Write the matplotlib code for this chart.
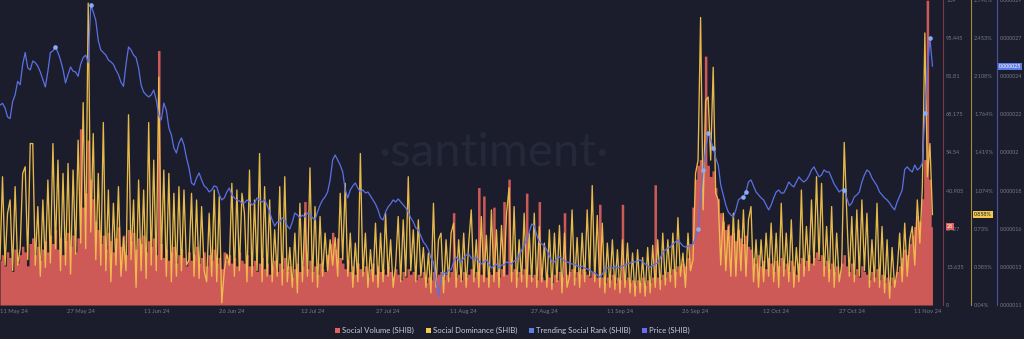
import matplotlib
matplotlib.use("Agg")
import matplotlib.pyplot as plt
import matplotlib.dates as mdates
import numpy as np
import pandas as pd
from matplotlib.lines import Line2D

plt.rcParams['font.family'] = ['Lato', 'DejaVu Sans']

# 12-hour samples starting at this timestamp
START = "2024-05-11 00:00"

social_volume = [
    16, 18, 14, 19, 17, 12, 20, 15, 18, 21,
    19, 14, 22, 24, 18, 21, 16, 20, 23, 19,
    25, 22, 27, 20, 24, 18, 23, 26, 21, 25,
    19, 24, 63, 35, 40, 59, 45, 38, 30, 27,
    22, 25, 20, 26, 23, 19, 24, 28, 21, 25,
    18, 27, 23, 26, 20, 24, 22, 25, 19, 23,
    21, 24, 18, 91, 22, 17, 20, 16, 19, 21,
    15, 18, 20, 17, 14, 19, 16, 18, 21, 15,
    17, 19, 14, 18, 16, 20, 15, 17, 13, 19,
    16, 18, 15, 17, 14, 19, 16, 15, 18, 14,
    14, 16, 12, 15, 17, 13, 15, 11, 14, 16,
    12, 15, 13, 17, 12, 14, 10, 13, 15, 12,
    14, 37, 13, 16, 12, 14, 11, 15, 13, 12,
    18, 22, 26, 20, 24, 17, 15, 13, 16, 12,
    14, 11, 15, 13, 12, 14, 10, 13, 15, 11,
    14, 12, 13, 11, 14, 12, 10, 13, 11, 9,
    12, 10, 13, 11, 12, 9, 11, 10, 12, 8,
    10, 9, 12, 10, 11, 12, 9, 11, 10, 12,
    33, 10, 11, 9, 12, 10, 11, 13, 10, 12,
    42, 11, 39, 10, 12, 11, 35, 12, 10, 13,
    37, 11, 45, 12, 13, 10, 12, 11, 13, 40,
    11, 10, 11, 9, 37, 10, 9, 11, 10, 8,
    11, 9, 12, 10, 33, 11, 12, 13, 10, 12,
    11, 13, 12, 11, 10, 12, 11, 10, 36, 10,
    8, 10, 9, 11, 8, 10, 9, 36, 9, 10,
    8, 9, 7, 9, 8, 10, 7, 9, 8, 10,
    43, 10, 9, 11, 10, 12, 11, 13, 12, 14,
    13, 15, 14, 17, 22, 35, 45, 50, 52, 48,
    89, 50, 46, 48, 42, 38, 33, 30, 27, 29,
    25, 26, 23, 27, 24, 22, 25, 21, 20, 17,
    15, 18, 14, 16, 13, 17, 15, 12, 16, 14,
    17, 13, 15, 12, 16, 14, 11, 15, 17, 14,
    16, 18, 15, 17, 19, 16, 18, 14, 16, 13,
    15, 12, 14, 11, 15, 18, 14, 12, 15, 11,
    13, 10, 14, 12, 11, 9, 12, 10, 13, 9,
    11, 8, 10, 7, 10, 9, 12, 14, 17, 20,
    18, 22, 25, 28, 32, 30, 38, 52, 109, 45,
    28,
]

# percent
social_dominance = [
    0.45, 1.20, 0.40, 0.87, 0.99, 0.35, 1.11, 0.40, 0.55, 1.23,
    1.29, 0.45, 1.50, 1.50, 0.40, 0.93, 0.30, 0.99, 0.38, 1.17,
    0.42, 1.50, 0.55, 1.35, 0.35, 1.23, 0.40, 1.32, 0.32, 1.26,
    0.50, 1.53, 0.60, 1.87, 0.55, 2.77, 0.70, 1.59, 0.45, 1.23,
    0.40, 1.69, 0.35, 1.08, 0.25, 0.96, 0.40, 1.11, 0.30, 0.65,
    0.35, 1.76, 0.45, 0.99, 0.20, 1.17, 0.35, 1.08, 0.28, 1.69,
    0.40, 1.35, 0.35, 2.10, 0.45, 1.26, 0.30, 1.23, 0.25, 1.05,
    0.30, 1.11, 0.35, 1.08, 0.40, 0.45, 1.05, 0.30, 0.99, 0.28,
    0.93, 0.35, 0.25, 0.87, 0.30, 1.08, 0.25, 1.02, 0.06, 0.35,
    0.50, 0.40, 1.14, 0.30, 1.08, 0.35, 1.05, 0.87, 0.25, 1.26,
    0.30, 0.99, 0.35, 1.41, 0.25, 1.11, 0.30, 0.99, 0.25, 0.72,
    0.30, 1.11, 0.22, 1.20, 0.25, 0.56, 0.20, 0.69, 0.15, 0.96,
    0.25, 0.87, 0.30, 1.28, 0.25, 0.93, 0.20, 0.84, 0.30, 0.69,
    0.35, 0.63, 0.40, 0.65, 0.30, 1.05, 0.45, 1.14, 0.30, 0.69,
    0.20, 0.60, 0.25, 1.41, 0.30, 0.69, 0.20, 0.54, 0.25, 0.78,
    0.20, 0.69, 0.25, 0.87, 0.30, 0.63, 0.20, 0.40, 0.84, 0.25,
    0.81, 0.30, 1.20, 0.35, 0.72, 0.25, 0.81, 0.30, 0.56, 0.20,
    0.51, 0.15, 0.96, 0.20, 0.63, 0.69, 0.15, 0.63, 0.25, 0.69,
    0.78, 0.20, 0.63, 0.25, 0.69, 0.20, 0.60, 0.90, 0.25, 0.63,
    0.20, 0.84, 0.25, 0.67, 0.20, 0.90, 0.25, 0.72, 0.20, 0.76,
    0.30, 0.87, 1.10, 0.25, 0.93, 0.20, 0.63, 0.25, 0.87, 0.20,
    0.69, 0.25, 0.87, 0.20, 0.75, 0.25, 0.60, 0.20, 0.72, 0.18,
    0.69, 0.25, 0.76, 0.15, 0.69, 0.20, 0.30, 0.90, 0.22, 0.65,
    0.20, 0.69, 0.25, 0.90, 0.30, 1.12, 0.25, 0.85, 0.20, 0.78,
    0.15, 0.60, 0.20, 0.63, 0.18, 0.54, 0.15, 0.63, 0.20, 0.60,
    0.15, 0.51, 0.12, 0.54, 0.15, 0.47, 0.12, 0.56, 0.15, 0.58,
    0.20, 0.63, 0.18, 0.69, 0.22, 0.63, 0.25, 0.69, 0.20, 0.83,
    0.30, 0.51, 0.20, 0.69, 0.35, 0.45, 1.23, 1.35, 2.64, 0.90,
    1.89, 1.92, 1.35, 2.19, 1.05, 0.99, 0.40, 0.87, 0.35, 0.75,
    0.30, 0.87, 0.30, 0.81, 0.35, 0.90, 0.30, 0.81, 0.93, 0.25,
    0.63, 0.20, 0.63, 0.25, 0.69, 0.30, 0.78, 0.25, 0.69, 0.20,
    0.96, 0.30, 0.69, 0.25, 0.81, 0.20, 0.56, 0.25, 1.08, 0.30,
    0.75, 0.35, 0.99, 0.40, 1.20, 0.45, 1.14, 0.30, 0.75, 0.25,
    0.93, 0.20, 0.69, 0.25, 0.40, 1.51, 0.87, 0.30, 0.84, 0.25,
    0.90, 0.30, 0.99, 0.35, 0.87, 0.20, 0.63, 0.25, 0.96, 0.20,
    0.75, 0.15, 0.63, 0.10, 0.56, 0.20, 0.35, 0.69, 0.25, 0.78,
    0.30, 0.63, 0.75, 0.40, 0.99, 0.60, 1.10, 2.50, 1.20, 1.50,
    0.858,
]

# USD, in millionths
price_micro = [
    22.8, 22.9, 22.63, 22.1, 22.0, 23.0, 23.4, 24.2, 24.0, 25.2,
    25.9, 25.0, 24.87, 25.4, 25.3, 25.1, 24.75, 24.3, 23.87, 24.8,
    25.9, 26.0, 26.23, 25.9, 25.46, 24.9, 24.1, 24.6, 25.05, 24.8,
    24.75, 24.5, 25.2, 25.6, 25.75, 25.3, 28.7, 28.3, 27.8, 26.6,
    26.05, 25.9, 25.75, 25.46, 25.35, 25.2, 24.87, 24.6, 24.15, 23.9,
    25.2, 26.23, 26.05, 25.75, 25.6, 24.98, 23.98, 23.57, 23.4, 23.28,
    23.4, 23.69, 23.1, 22.2, 21.92, 22.92, 22.5, 21.45, 21.04, 20.27,
    19.97, 20.56, 20.86, 20.45, 19.68, 19.09, 18.2, 18.08, 18.5, 18.79,
    18.38, 18.03, 17.9, 17.67, 17.79, 18.03, 17.97, 17.5, 17.2,
    17.32, 17.67, 17.9, 17.5, 17.32, 17.2, 17.14, 17.02, 17.02, 17.2,
    17.08, 16.9, 17.02, 17.32, 17.2, 17.08, 17.2, 16.9, 16.49, 16.02,
    15.66, 15.9, 15.9, 16.14, 16.02, 15.66, 15.49, 15.9, 16.43, 16.31,
    16.14, 16.31, 16.19, 16.43, 16.37, 16.14, 16.02, 16.49, 16.9, 17.2,
    17.38, 17.67, 18.38, 19.56, 19.85, 19.56, 19.26, 18.85, 17.79, 17.32,
    17.79, 18.03, 18.2, 17.9, 17.67, 17.79, 17.61, 17.67, 17.44, 17.2,
    16.96, 16.61, 16.14, 16.02, 16.49, 16.79, 16.96, 17.2, 17.08, 17.26,
    17.08, 16.9, 16.73, 16.49, 16.14, 15.9, 15.55, 15.43, 15.07, 14.72,
    14.54, 14.25, 13.77, 13.54, 12.48, 11.47, 12.59, 12.95, 12.83, 13.07,
    13.07, 13.54, 13.83, 13.66, 13.54, 13.77, 13.95, 14.01, 13.77,
    13.72, 13.83, 13.6, 13.42, 13.54, 13.66, 13.42, 13.18, 13.3, 13.42,
    13.18, 13.36, 13.36, 13.54, 13.48, 13.42, 13.6, 13.66, 13.95, 14.25,
    14.54, 14.84, 15.31, 15.78, 15.66, 15.13, 14.72, 14.6, 14.48, 14.25,
    13.89, 13.54, 13.54, 13.77, 13.83, 13.72, 13.6, 13.54, 13.48, 13.42,
    13.42, 13.3, 13.24, 13.3, 13.18, 13.13, 13.07, 12.95, 12.89, 12.77,
    12.65, 12.83, 13.07, 13.18, 13.24, 13.18, 13.3, 13.18, 13.24, 13.3,
    13.36, 13.42, 13.48, 13.54, 13.54, 13.6, 13.66, 13.54, 13.42, 13.3,
    13.24, 13.36, 13.42, 13.48, 13.77, 14.13, 14.25, 14.36, 14.42, 14.6,
    14.72, 14.84, 14.66, 14.48, 14.42, 14.48, 14.48, 14.6, 14.96, 15.49,
    17.2, 18.97, 20.15, 21.15, 20.74, 20.27, 19.68, 19.26, 18.08,
    17.5, 16.9, 16.49, 16.31, 16.19, 16.61, 17.2, 17.32, 17.38, 17.67,
    18.26, 18.38, 18.03, 17.67, 17.5, 17.32, 17.2, 16.9, 16.61, 16.9,
    17.32, 17.67, 17.79, 17.61, 17.61, 17.9, 18.26, 18.08, 17.97, 18.26,
    18.56, 18.38, 18.26, 18.38, 18.62, 18.97, 19.15, 18.85, 18.56, 18.67,
    18.97, 18.85, 18.85, 18.5, 18.14, 17.9, 17.67, 17.79, 17.79, 17.32,
    16.85, 17.02, 17.38, 17.5, 17.67, 18.26, 18.67, 18.97, 18.85, 18.5,
    18.26, 18.03, 17.67, 17.5, 17.32, 17.2, 17.02, 16.79, 16.61, 17.08,
    17.44, 17.79, 19.0, 19.15, 18.97,
    18.85, 19.26, 18.97, 19.09, 19.38, 22.33, 24.87, 26.76, 25.1,
]

# Times at which SHIB entered the trending list
trending_times = [
    "2024-05-22 00:00", "2024-05-29 00:00",
    "2024-09-26 12:00", "2024-09-27 12:00", "2024-09-28 12:00", "2024-09-29 12:00",
    "2024-10-05 12:00", "2024-10-06 00:00", "2024-10-25 12:00",
    "2024-11-10 12:00", "2024-11-11 12:00",
]

date_ticks = ["2024-05-11", "2024-05-27", "2024-06-11", "2024-06-26", "2024-07-12",
              "2024-07-27", "2024-08-11", "2024-08-27", "2024-09-11", "2024-09-26",
              "2024-10-12", "2024-10-27", "2024-11-11"]
date_tick_labels = ["11 May 24", "27 May 24", "11 Jun 24", "26 Jun 24", "12 Jul 24",
                    "27 Jul 24", "11 Aug 24", "27 Aug 24", "11 Sep 24", "26 Sep 24",
                    "12 Oct 24", "27 Oct 24", "11 Nov 24"]

volume_ticks = [0, 13.635, 27.27, 40.905, 54.54, 68.175, 81.81, 95.445, 109.08]
volume_tick_labels = ["0", "13.635", "27.27", "40.905", "54.54", "68.175", "81.81", "95.445", "109"]
dominance_ticks = [0.04, 0.385, 0.73, 1.074, 1.419, 1.764, 2.108, 2.453, 2.798]
dominance_tick_labels = ["0.04%", "0.385%", "0.73%", "1.074%", "1.419%", "1.764%", "2.108%", "2.453%", "2.798%"]
price_ticks_micro = [11, 13.25, 15.5, 17.75, 20, 22.25, 24.5, 26.75, 29]
price_tick_labels = ["0.000011", "0.000013", "0.000016", "0.000018", "0.00002",
                     "0.000022", "0.000024", "0.000027", "0.000029"]

legend_labels = ["Social Volume (SHIB)", "Social Dominance (SHIB)",
                 "Trending Social Rank (SHIB)", "Price (SHIB)"]

n = len(social_volume)
assert len(social_dominance) == n and len(price_micro) == n, (
    len(social_volume), len(social_dominance), len(price_micro))

times = pd.date_range(START, periods=n, freq="12h")
price = pd.Series(np.array(price_micro) * 1e-6, index=times)
trend_idx = pd.to_datetime(trending_times)

# Colours
BG = "#1b1d2c"
VOL = "#cd5a57"
DOM = "#f2c24c"
PRICE = "#5a70e4"
DOT = "#88adf2"
TICK = "#737889"
WM = "#252839"

W, H = 1024, 339
fig = plt.figure(figsize=(W / 100, H / 100), dpi=100, facecolor=BG)
ax = fig.add_axes([0, 34 / H, 940 / W, 305 / H])
ax.set_facecolor(BG)
ax_dom = ax.twinx()
ax_price = ax.twinx()

ax.text(0.525, 0.5, "\u00b7santiment\u00b7", transform=ax.transAxes, ha="center",
        va="center", fontsize=34, color=WM, zorder=0)

ax.fill_between(times, social_volume, step="mid", color=VOL, lw=0, zorder=2)
ax_dom.plot(times, social_dominance, color=DOM, lw=0.95, alpha=0.95)
ax_price.plot(times, price.values, color=PRICE, lw=0.9)
ax_price.scatter(trend_idx, price.loc[trend_idx].values, s=11, color=DOT, lw=0, zorder=5)

x0 = pd.Timestamp(START)
ax.set_xlim(x0, x0 + pd.Timedelta(days=186.5))
ax.set_ylim(0, volume_ticks[-1])
ax_dom.set_ylim(dominance_ticks[0], dominance_ticks[-1])
ax_price.set_ylim(price_ticks_micro[0] * 1e-6, price_ticks_micro[-1] * 1e-6)

ax.set_xticks(mdates.date2num(pd.to_datetime(date_ticks)))
ax.set_xticklabels(date_tick_labels)
ax.tick_params(axis="x", length=0, pad=3, labelsize=4.2, labelcolor=TICK)
ax.get_xticklabels()[0].set_horizontalalignment("left")

axis_specs = [
    (ax, volume_ticks, volume_tick_labels, "#7a3a48", 3, 4.1),
    (ax_dom, dominance_ticks, dominance_tick_labels, "#a58a3c", 31, 4.1),
    (ax_price, [t * 1e-6 for t in price_ticks_micro], price_tick_labels, "#45549c", 57, 3.8),
]
for a, ticks, labels, spine_color, offset_px, size in axis_specs:
    a.yaxis.tick_right()
    a.set_yticks(ticks)
    a.set_yticklabels(labels)
    a.tick_params(axis="y", length=0, pad=2.2, labelsize=size, labelcolor=TICK)
    for side in ("left", "top", "bottom"):
        a.spines[side].set_visible(False)
    a.spines["right"].set_position(("outward", offset_px * 0.72))
    a.spines["right"].set_color(spine_color)
    a.spines["right"].set_linewidth(0.8)

# Last-value badges on each scale
badge_font = dict(fontsize=3.8, ha="left", va="center", textcoords="offset pixels")
ax.annotate(f"{social_volume[-1]:g}", xy=(1, social_volume[-1]),
            xycoords=("axes fraction", "data"), xytext=(7, 0), color="white",
            bbox=dict(boxstyle="square,pad=0.2", fc="#e0615c", ec="none"), **badge_font)
ax_dom.annotate(f"{social_dominance[-1]:.3f}%", xy=(1, social_dominance[-1]),
                xycoords=("axes fraction", "data"), xytext=(34, 0), color="#1b1d2c",
                bbox=dict(boxstyle="square,pad=0.2", fc="#f2c94c", ec="none"), **badge_font)
ax_price.annotate(f"{price.iloc[-1]:.6f}", xy=(1, price.iloc[-1]),
                  xycoords=("axes fraction", "data"), xytext=(59, 0), color="white",
                  bbox=dict(boxstyle="square,pad=0.2", fc="#5b7be6", ec="none"), **badge_font)

legend_colors = ["#e0625c", "#f2c94c", "#5b7ee8", "#6a6cf0"]
handles = [Line2D([], [], marker="s", ls="none", markersize=3.6,
                  markerfacecolor=c, markeredgewidth=0) for c in legend_colors]
fig.legend(handles, legend_labels, loc="center", bbox_to_anchor=(0.5, 9 / H), ncol=4,
           frameon=False, fontsize=5.6, labelcolor="#c9ccd6", handletextpad=0.2,
           columnspacing=1.3, handlelength=0.9, borderaxespad=0)

fig.savefig("out.png", dpi=100, facecolor=BG)
